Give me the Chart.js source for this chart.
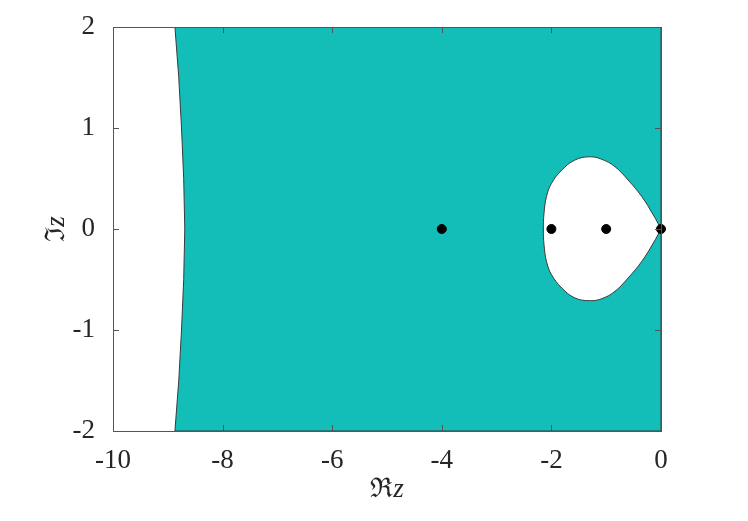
<!DOCTYPE html>
<html>
<head>
<meta charset="utf-8">
<script src="https://cdn.jsdelivr.net/npm/chart.js@4.4.1/dist/chart.umd.min.js"></script>
<style>
  html, body { margin: 0; padding: 0; background: #fff; }
  #wrap { width: 748px; height: 521px; }
</style>
</head>
<body>
<div id="wrap"><canvas id="c"></canvas></div>
<script>
// axis ticks
var xTicks = [-10, -8, -6, -4, -2, 0];
var yTicks = [-2, -1, 0, 1, 2];

// left boundary of the teal region
var leftY = [2, 1.5, 1, 0.5, 0, -0.5, -1, -1.5, -2];
var leftX = [-8.87, -8.80, -8.75, -8.71, -8.69, -8.71, -8.75, -8.80, -8.87];

// white teardrop near the origin (cusp at 0, traced anticlockwise)
var dropX = [0, -0.14, -0.35, -0.60, -0.84, -1.08, -1.30, -1.57, -1.81, -2.00, -2.09, -2.135, -2.147,
             -2.135, -2.09, -2.00, -1.81, -1.57, -1.30, -1.08, -0.84, -0.60, -0.35, -0.14, 0];
var dropY = [0, 0.139, 0.32, 0.485, 0.617, 0.69, 0.715, 0.683, 0.584, 0.45, 0.32, 0.155, 0,
             -0.155, -0.32, -0.45, -0.584, -0.683, -0.71, -0.69, -0.617, -0.485, -0.32, -0.139, 0];

// black dots on the real axis
var dotX = [-4, -2, -1, 0];
var dotY = [0, 0, 0, 0];

var teal = '#13BEB8';
var edge = '#3a3a3a';
var textCol = '#262626';
var fontFam = '"Liberation Serif", "Times New Roman", serif';

function pts(xs, ys) {
    return xs.map(function (x, i) { return { x: x, y: ys[i] }; });
}

// teal region: left curve, then along the bottom, right and top edges
var tealPts = pts(leftX, leftY).concat([{ x: 0, y: -2 }, { x: 0, y: 2 }, { x: leftX[0], y: leftY[0] }]);

// draw inward ticks, the box and the axis titles
var framePlugin = {
    id: 'frame',
    afterDraw: function (chart) {
        var ctx = chart.ctx;
        var a = chart.chartArea;
        var xs = chart.scales.x, ys = chart.scales.y;
        ctx.save();
        ctx.strokeStyle = '#555';
        ctx.lineWidth = 1;
        ctx.beginPath();
        xTicks.forEach(function (t) {
            var px = Math.round(xs.getPixelForValue(t)) + 0.5;
            ctx.moveTo(px, a.bottom); ctx.lineTo(px, a.bottom - 6);
            ctx.moveTo(px, a.top); ctx.lineTo(px, a.top + 6);
        });
        yTicks.forEach(function (t) {
            var py = Math.round(ys.getPixelForValue(t)) + 0.5;
            ctx.moveTo(a.left, py); ctx.lineTo(a.left + 6, py);
            ctx.moveTo(a.right, py); ctx.lineTo(a.right - 6, py);
        });
        ctx.stroke();
        ctx.strokeRect(Math.round(a.left) + 0.5, Math.round(a.top) + 0.5,
            Math.round(a.right - a.left), Math.round(a.bottom - a.top));

        // x title: ℜz
        ctx.fillStyle = textCol;
        ctx.textBaseline = 'middle';
        ctx.textAlign = 'left';
        var cx = (a.left + a.right) / 2;
        ctx.font = '27px ' + fontFam;
        var w1 = ctx.measureText('ℜ').width;
        ctx.font = 'italic 27px ' + fontFam;
        var w2 = ctx.measureText('z').width;
        var sx = cx - (w1 + w2) / 2;
        ctx.font = '27px ' + fontFam;
        ctx.fillText('ℜ', sx, 490);
        ctx.font = 'italic 27px ' + fontFam;
        ctx.fillText('z', sx + w1, 490);

        // y title: ℑz rotated
        ctx.translate(57, (a.top + a.bottom) / 2);
        ctx.rotate(-Math.PI / 2);
        ctx.font = '27px ' + fontFam;
        w1 = ctx.measureText('ℑ').width;
        ctx.font = 'italic 27px ' + fontFam;
        w2 = ctx.measureText('z').width;
        sx = -(w1 + w2) / 2;
        ctx.font = '27px ' + fontFam;
        ctx.fillText('ℑ', sx, 0);
        ctx.font = 'italic 27px ' + fontFam;
        ctx.fillText('z', sx + w1, 0);
        ctx.restore();
    }
};

new Chart(document.getElementById('c'), {
    type: 'scatter',
    data: {
        datasets: [
            {
                label: 'dots',
                data: pts(dotX, dotY),
                backgroundColor: '#000',
                borderColor: '#000',
                pointRadius: 4.5,
                showLine: false,
                clip: false,
                order: 0
            },
            {
                label: 'drop',
                data: pts(dropX, dropY),
                showLine: true,
                fill: 'shape',
                backgroundColor: '#fff',
                borderColor: edge,
                borderWidth: 1,
                pointRadius: 0,
                tension: 0.4,
                order: 1
            },
            {
                label: 'region',
                data: tealPts,
                showLine: true,
                fill: 'shape',
                backgroundColor: teal,
                borderColor: edge,
                borderWidth: 1,
                pointRadius: 0,
                tension: 0,
                order: 2
            }
        ]
    },
    options: {
        responsive: true,
        maintainAspectRatio: false,
        animation: false,
        layout: { padding: { top: 27, right: 87, left: 0, bottom: 0 } },
        plugins: { legend: { display: false }, tooltip: { enabled: false } },
        scales: {
            x: {
                type: 'linear', min: -10, max: 0,
                afterBuildTicks: function (s) { s.ticks = xTicks.map(function (v) { return { value: v }; }); },
                afterFit: function (s) { s.height = 90; },
                grid: { display: false },
                border: { display: false },
                ticks: { color: textCol, font: { family: fontFam, size: 27 }, padding: 6, maxRotation: 0 }
            },
            y: {
                type: 'linear', min: -2, max: 2,
                afterBuildTicks: function (s) { s.ticks = yTicks.map(function (v) { return { value: v }; }); },
                afterFit: function (s) { s.width = 113; },
                grid: { display: false },
                border: { display: false },
                ticks: { color: textCol, font: { family: fontFam, size: 27 }, padding: 10 }
            }
        }
    },
    plugins: [framePlugin]
});
</script>
</body>
</html>
